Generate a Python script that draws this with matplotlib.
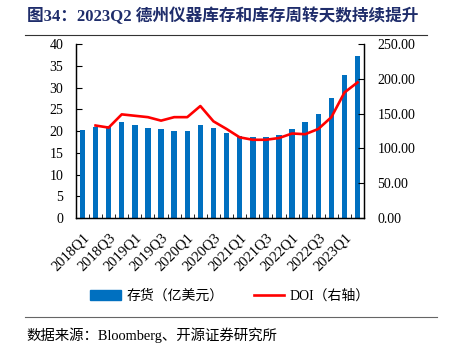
import numpy as np
import matplotlib
matplotlib.use('Agg')
import matplotlib.pyplot as plt
from matplotlib.lines import Line2D

plt.rcParams['font.family'] = ['Liberation Serif', 'Noto Sans CJK SC']

# 数据
quarters = ['2018Q1', '2018Q2', '2018Q3', '2018Q4', '2019Q1', '2019Q2', '2019Q3', '2019Q4',
            '2020Q1', '2020Q2', '2020Q3', '2020Q4', '2021Q1', '2021Q2', '2021Q3', '2021Q4',
            '2022Q1', '2022Q2', '2022Q3', '2022Q4', '2023Q1', '2023Q2']
inventory = [20.3, 20.9, 21.1, 22.2, 21.4, 20.8, 20.5, 20.1, 20.1, 21.4, 20.8, 19.6,
             18.9, 18.6, 18.6, 19.1, 20.5, 22.1, 24.0, 27.6, 32.9, 37.3]
doi = [np.nan, 133, 130, 149, 147, 145, 140, 145, 145, 161, 139, 128,
       116, 112.5, 112.5, 115, 121.5, 120.5, 128, 145, 180.5, 195]

fig = plt.figure(figsize=(4.49, 3.5), dpi=100)
ax = fig.add_axes([0.169, 0.377, 0.642, 0.497])
x = np.arange(len(quarters))
ax.bar(x, inventory, width=0.42, color='#0070C0', zorder=2)
ax.set_xlim(-0.5, len(quarters) - 0.5)
ax.set_ylim(0, 40)
ax.set_yticks(range(0, 41, 5))

ax2 = ax.twinx()
ax2.plot(x, doi, color='#FF0000', lw=1.9, zorder=3)
ax2.set_ylim(0, 250)
ax2.set_yticks(range(0, 251, 50))
ax2.set_yticklabels(['%.2f' % v for v in range(0, 251, 50)])

# x轴刻度：类别边界处的小刻度，标签隔一个显示
ax.set_xticks(x[::2])
ax.set_xticklabels(quarters[::2], rotation=45, ha='right', rotation_mode='anchor')
ax.set_xticks(np.arange(-0.5, len(quarters), 1), minor=True)
ax.tick_params(axis='x', which='major', length=0, labelsize=10.5, pad=9)
ax.tick_params(axis='x', which='minor', direction='in', length=3, width=0.6)
ax.tick_params(axis='y', direction='in', length=4, width=0.8, labelsize=10, pad=9)
ax2.tick_params(axis='y', direction='in', length=4, width=0.8, labelsize=10, pad=9.5)

for a in (ax, ax2):
    a.spines['top'].set_visible(False)
    for s in ('left', 'right', 'bottom'):
        a.spines[s].set_linewidth(0.9)

# 图例
handles = [plt.Rectangle((0, 0), 1, 1, color='#0070C0'),
           Line2D([0], [0], color='#FF0000', lw=1.9)]
fig.legend(handles, ['存货（亿美元）', 'DOI（右轴）'], loc='center',
           bbox_to_anchor=(230 / 449, 1 - 296 / 350), ncol=2, frameon=False,
           fontsize=10, handlelength=2.2, columnspacing=2.2, handletextpad=0.4)

# 标题和来源
fig.text(27 / 449, 1 - 16 / 350, '图34：2023Q2 德州仪器库存和库存周转天数持续提升',
         fontsize=12, fontweight='bold', color='#1F2D6B', va='center', ha='left')
fig.add_artist(Line2D([25 / 449, 427 / 449], [1 - 35 / 350, 1 - 35 / 350],
                      color='#333333', lw=0.8))
fig.add_artist(Line2D([25 / 449, 437 / 449], [1 - 317 / 350, 1 - 317 / 350],
                      color='#666666', lw=0.8))
fig.text(26 / 449, 1 - 335 / 350, '数据来源：Bloomberg、开源证券研究所',
         fontsize=10.4, va='center', ha='left')

fig.savefig('out.png', dpi=100)
